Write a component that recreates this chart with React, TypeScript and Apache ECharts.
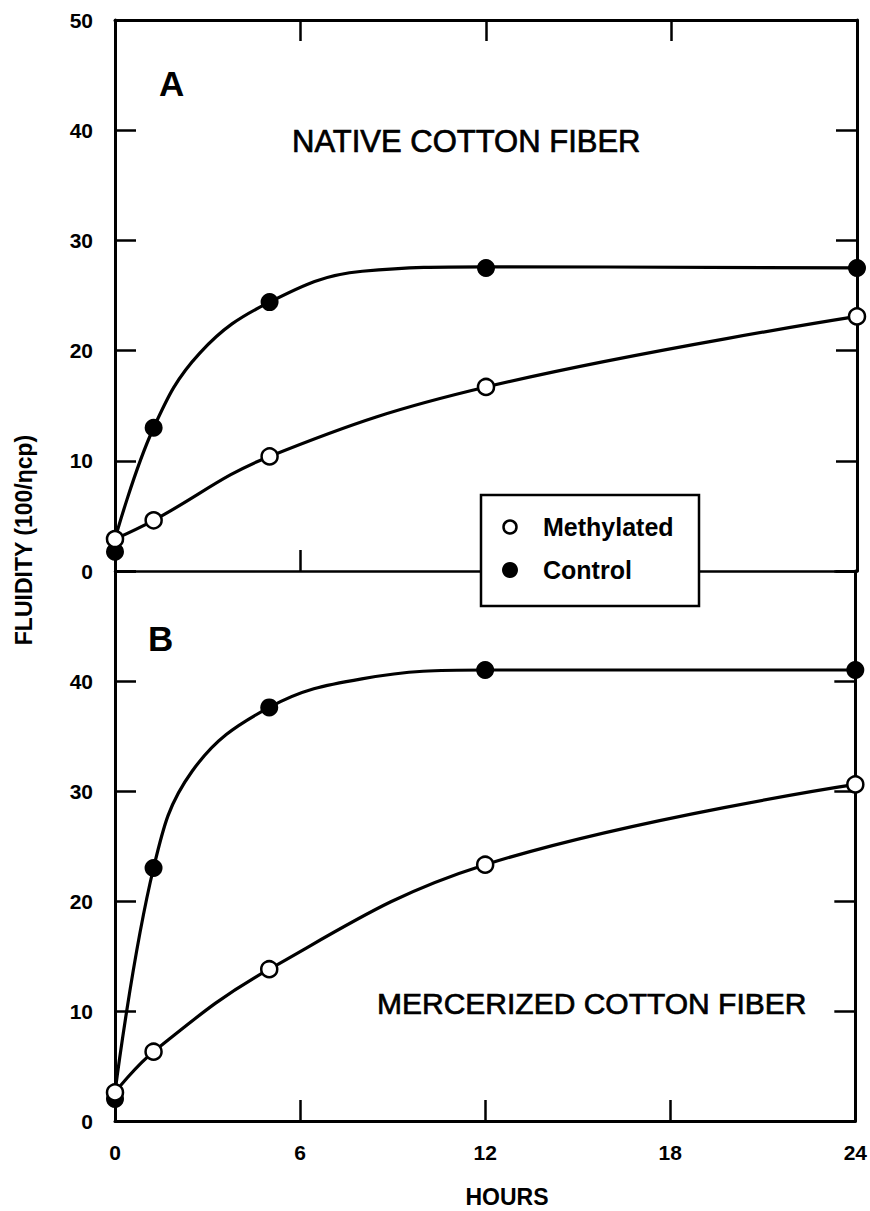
import React, { useEffect, useRef } from "react";
import * as echarts from "echarts";

// Hours (x) tick values and fluidity (y) tick values
const hourTicks = [0, 6, 12, 18, 24];
const fluidityTicks = [0, 10, 20, 30, 40, 50];

// Panel A: native cotton fiber — measured points [hours, fluidity]
const nativeMethylated: [number, number][] = [
  [0, 2.9], [1.25, 4.6], [5, 10.4], [12, 16.7], [24, 23.1],
];
const nativeControl: [number, number][] = [
  [0, 1.75], [1.25, 13.0], [5, 24.4], [12, 27.5], [24, 27.5],
];
// Panel A: drawn curves
const nativeMethylatedCurve: [number, number][] = [
  [0, 2.9], [1.25, 4.6], [5, 10.4], [12, 16.7], [24, 23.1],
];
const nativeControlCurve: [number, number][] = [
  [0, 2.9], [1.25, 13.0], [2.75, 19.8], [5, 24.4], [8, 27.2], [12, 27.6], [24, 27.5],
];

// Panel B: mercerized cotton fiber — measured points
const mercMethylated: [number, number][] = [
  [0, 2.6], [1.25, 6.3], [5, 13.8], [12, 23.3], [24, 30.6],
];
const mercControl: [number, number][] = [
  [0, 2.0], [1.25, 23.0], [5, 37.6], [12, 41.0], [24, 41.0],
];
const mercMethylatedCurve: [number, number][] = [
  [0, 2.6], [1.25, 6.3], [5, 13.8], [12, 23.3], [24, 30.6],
];
const mercControlCurve: [number, number][] = [
  [0, 2.6], [1.25, 23.0], [2.5, 31.8], [5, 37.6], [8, 40.2], [12, 41.0], [24, 41.0],
];

const FONT = "'Liberation Sans', Arial, sans-serif";

export default function App() {
  const ref = useRef<HTMLDivElement>(null);

  useEffect(() => {
    if (!ref.current) return;
    const chart = echarts.init(ref.current, null, { renderer: "svg" });

    const tickStyle = { show: true, inside: true, length: 21, lineStyle: { color: "#000", width: 2.5 } };
    const xBase = {
      type: "value" as const,
      min: hourTicks[0],
      max: hourTicks[hourTicks.length - 1],
      interval: 6,
      splitLine: { show: false },
      axisTick: tickStyle,
    };
    const yBase = {
      type: "value" as const,
      min: fluidityTicks[0],
      max: fluidityTicks[fluidityTicks.length - 1],
      interval: 10,
      splitLine: { show: false },
      axisTick: tickStyle,
    };
    const labelStyle = { fontFamily: FONT, fontWeight: "bold" as const, fontSize: 21, color: "#000" };

    const curve = (name: string, data: [number, number][], gi: number) => ({
      name,
      type: "line" as const,
      xAxisIndex: gi === 0 ? 0 : 2,
      yAxisIndex: gi === 0 ? 0 : 2,
      data,
      smooth: 0.4,
      showSymbol: false,
      symbol: "none",
      lineStyle: { color: "#000", width: 3.2 },
      z: 2,
      silent: true,
    });
    const marks = (name: string, data: [number, number][], gi: number, open: boolean) => ({
      name,
      type: "scatter" as const,
      xAxisIndex: gi === 0 ? 0 : 2,
      yAxisIndex: gi === 0 ? 0 : 2,
      data,
      symbol: "circle",
      symbolSize: open ? 16 : 18,
      itemStyle: open
        ? { color: "#fff", borderColor: "#000", borderWidth: 2.5, opacity: 1 }
        : { color: "#000", borderColor: "#000", borderWidth: 0, opacity: 1 },
      z: open ? 4 : 3,
    });

    chart.setOption({
      animation: false,
      backgroundColor: "#fff",
      grid: [
        { left: 115, top: 20, right: 13, height: 551 },
        { left: 115, top: 571, right: 13, height: 550 },
      ],
      xAxis: [
        {
          ...xBase, gridIndex: 0, position: "bottom",
          axisLine: { show: true, onZero: false, lineStyle: { color: "#000", width: 2.5 } },
          axisLabel: { show: false },
        },
        {
          ...xBase, gridIndex: 0, position: "top",
          axisLine: { show: true, onZero: false, lineStyle: { color: "#000", width: 3 } },
          axisLabel: { show: false },
        },
        {
          ...xBase, gridIndex: 1, position: "bottom",
          axisLine: { show: true, onZero: false, lineStyle: { color: "#000", width: 3 } },
          axisLabel: { show: true, margin: 21, ...labelStyle },
        },
      ],
      yAxis: [
        {
          ...yBase, gridIndex: 0, position: "left",
          axisLine: { show: true, onZero: false, lineStyle: { color: "#000", width: 3 } },
          axisLabel: { show: true, margin: 22, ...labelStyle },
        },
        {
          ...yBase, gridIndex: 0, position: "right",
          axisLine: { show: true, onZero: false, lineStyle: { color: "#000", width: 3 } },
          axisLabel: { show: false },
        },
        {
          ...yBase, gridIndex: 1, position: "left",
          axisLine: { show: true, onZero: false, lineStyle: { color: "#000", width: 3 } },
          axisLabel: {
            show: true, margin: 22, ...labelStyle,
            formatter: (v: number) => (v === 50 ? "" : String(v)),
          },
        },
        {
          ...yBase, gridIndex: 1, position: "right",
          axisLine: { show: true, onZero: false, lineStyle: { color: "#000", width: 3 } },
          axisLabel: { show: false },
        },
      ],
      series: [
        curve("Methylated curve A", nativeMethylatedCurve, 0),
        curve("Control curve A", nativeControlCurve, 0),
        curve("Methylated curve B", mercMethylatedCurve, 1),
        curve("Control curve B", mercControlCurve, 1),
        marks("Control", nativeControl, 0, false),
        marks("Methylated", nativeMethylated, 0, true),
        marks("Control", mercControl, 1, false),
        marks("Methylated", mercMethylated, 1, true),
      ],
      graphic: [
        {
          type: "text", left: 159, top: 66, z: 10,
          style: { text: "A", fontFamily: FONT, fontWeight: "bold", fontSize: 35, fill: "#000" },
        },
        {
          type: "text", left: 148, top: 621, z: 10,
          style: { text: "B", fontFamily: FONT, fontWeight: "bold", fontSize: 35, fill: "#000" },
        },
        {
          type: "text", x: 292, y: 141, z: 10,
          style: {
            text: "NATIVE COTTON FIBER", fontFamily: FONT, fontSize: 31, fill: "#000",
            stroke: "#000", lineWidth: 0.7, verticalAlign: "middle", align: "left",
          },
        },
        {
          type: "text", x: 377, y: 1003, z: 10,
          style: {
            text: "MERCERIZED COTTON FIBER", fontFamily: FONT, fontSize: 30, fill: "#000",
            stroke: "#000", lineWidth: 0.7, verticalAlign: "middle", align: "left",
          },
        },
        {
          type: "text", x: 24, y: 540, rotation: Math.PI / 2, z: 10,
          style: {
            text: "FLUIDITY (100/ηcp)", fontFamily: FONT, fontWeight: "bold", fontSize: 23,
            fill: "#000", align: "center", verticalAlign: "middle",
          },
        },
        {
          type: "text", x: 507, y: 1197, z: 10,
          style: {
            text: "HOURS", fontFamily: FONT, fontWeight: "bold", fontSize: 23,
            fill: "#000", align: "center", verticalAlign: "middle",
          },
        },
        {
          type: "group", z: 20,
          children: [
            {
              type: "rect", z: 20,
              shape: { x: 481, y: 495, width: 218, height: 111 },
              style: { fill: "#fff", stroke: "#000", lineWidth: 2.5 },
            },
            {
              type: "circle", z: 21,
              shape: { cx: 510, cy: 527, r: 6.5 },
              style: { fill: "#fff", stroke: "#000", lineWidth: 2.5 },
            },
            {
              type: "circle", z: 21,
              shape: { cx: 510, cy: 570, r: 8 },
              style: { fill: "#000" },
            },
            {
              type: "text", x: 543, y: 527, z: 21,
              style: {
                text: "Methylated", fontFamily: FONT, fontWeight: "bold", fontSize: 25,
                fill: "#000", verticalAlign: "middle", align: "left",
              },
            },
            {
              type: "text", x: 543, y: 570, z: 21,
              style: {
                text: "Control", fontFamily: FONT, fontWeight: "bold", fontSize: 25,
                fill: "#000", verticalAlign: "middle", align: "left",
              },
            },
          ],
        },
      ],
    });

    return () => chart.dispose();
  }, []);

  return (
    <div
      ref={ref}
      style={{ position: "absolute", left: 0, top: 0, width: 870, height: 1211, background: "#fff" }}
    />
  );
}
